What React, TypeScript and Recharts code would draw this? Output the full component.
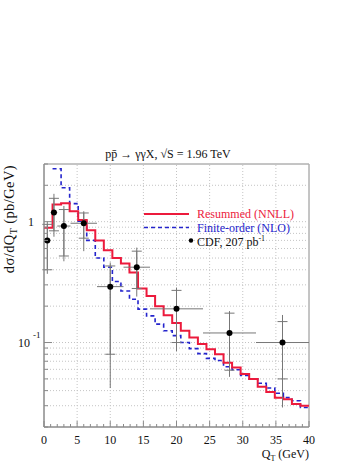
import React from 'react';
import {
  ComposedChart,
  Line,
  Scatter,
  ErrorBar,
  XAxis,
  YAxis,
  ReferenceLine,
  ReferenceArea,
} from 'recharts';

// histogram bin edges (GeV), 31 bins
const binEdges = [
  0, 1.29, 2.58, 3.87, 5.16, 6.45, 7.74, 9.03, 10.32, 11.61, 12.9, 14.19, 15.48, 16.77, 18.06, 19.35,
  20.65, 21.94, 23.23, 24.52, 25.81, 27.1, 28.39, 29.68, 30.97, 32.26, 33.55, 34.84, 36.13, 37.42, 38.71, 40,
];

// Resummed (NNLL), one value per bin
const resummed = [
  0.89, 1.39, 1.42, 1.22, 1.03, 0.85, 0.7, 0.58, 0.5, 0.45, 0.38, 0.28, 0.243, 0.2, 0.168, 0.145,
  0.125, 0.11, 0.097, 0.088, 0.08, 0.068, 0.062, 0.055, 0.05, 0.043, 0.039, 0.035, 0.034, 0.031, 0.03,
];

// Finite-order (NLO), first bin off the plot
const finiteOrder = [
  null, 2.74, 1.91, 1.41, 1.01, 0.7, 0.5, 0.42, 0.32, 0.267, 0.228, 0.189, 0.166, 0.142, 0.125, 0.114,
  0.1, 0.089, 0.081, 0.074, 0.071, 0.063, 0.0595, 0.0535, 0.05, 0.046, 0.042, 0.038, 0.035, 0.033, 0.029,
];

// CDF data
const cdfQt = [0.5, 1.5, 3, 6, 10, 14, 20, 28, 36];
const cdfHalfWidth = [0.5, 0.5, 1, 2, 2, 2, 4, 4, 4];
const cdfValue = [0.7, 1.19, 0.92, 0.97, 0.29, 0.42, 0.19, 0.12, 0.1];
const cdfTotLow = [0.37, 0.75, 0.47, 0.57, 0.042, 0.24, 0.085, 0.052, 0.029];
const cdfTotHigh = [1.0, 1.7, 1.35, 1.22, 0.46, 0.61, 0.285, 0.182, 0.169];
const cdfStatLow = [0.4, 0.84, 0.52, 0.73, 0.08, 0.28, 0.1, 0.059, 0.05];
const cdfStatHigh = [0.95, 1.56, 1.26, 1.18, 0.43, 0.57, 0.27, 0.175, 0.149];

const xTicks = Array.from({ length: 41 }, (_, i) => i);
const xGrid = [5, 10, 15, 20, 25, 30, 35];
const yTicks = [
  0.02, 0.03, 0.04, 0.05, 0.06, 0.07, 0.08, 0.09, 0.1, 0.2, 0.3, 0.4, 0.5, 0.6, 0.7, 0.8, 0.9, 1, 2, 3,
];

const W = 357;
const H = 462;
const PLOT_LEFT = 44;
const PLOT_TOP = 164;
const PLOT_RIGHT = 309;
const PLOT_BOTTOM = 427;

const FONT = '"Liberation Serif", "Times New Roman", serif';
const RED = '#ec1a3c';
const BLUE = '#2424cc';
const AXIS = '#8a8a8a';
const GRID = '#c4c4c4';

const histData = binEdges.map((x, i) => ({
  x,
  red: resummed[Math.min(i, resummed.length - 1)],
  blue: finiteOrder[Math.min(i, finiteOrder.length - 1)],
}));

const cdfData = cdfQt.map((x, i) => ({
  x,
  y: cdfValue[i],
  ex: [cdfHalfWidth[i], cdfHalfWidth[i]],
  eyTot: [cdfValue[i] - cdfTotLow[i], cdfTotHigh[i] - cdfValue[i]],
  eyStat: [cdfValue[i] - cdfStatLow[i], cdfStatHigh[i] - cdfValue[i]],
}));

const XTick = (props: any) => {
  const { x, payload } = props;
  const v = payload.value;
  const major = v % 5 === 0;
  return (
    <g>
      <line x1={x} x2={x} y1={PLOT_BOTTOM} y2={PLOT_BOTTOM - (major ? 6 : 3)} stroke={AXIS} />
      {major && (
        <text x={x} y={PLOT_BOTTOM + 17} textAnchor="middle" fontSize={12} fontFamily={FONT} fill="#111">
          {v}
        </text>
      )}
    </g>
  );
};

const YTick = (props: any) => {
  const { y, payload } = props;
  const v = payload.value;
  const major = v === 1 || v === 0.1;
  return (
    <g>
      <line x1={PLOT_LEFT} x2={PLOT_LEFT + (major ? 8 : 4)} y1={y} y2={y} stroke={AXIS} />
      {v === 1 && (
        <text x={34} y={y + 4} textAnchor="end" fontSize={12} fontFamily={FONT} fill="#111">
          1
        </text>
      )}
      {v === 0.1 && (
        <g fontFamily={FONT} fill="#111">
          <text x={30} y={y + 4} textAnchor="end" fontSize={12}>10</text>
          <text x={33} y={y - 5} fontSize={9}>-1</text>
        </g>
      )}
    </g>
  );
};

const CdfDot = (props: any) => <circle cx={props.cx} cy={props.cy} r={3} fill="#000" />;

const App: React.FC = () => {
  return (
    <div style={{ position: 'absolute', left: 0, top: 0, width: W, height: H, background: '#fff' }}>
      <ComposedChart
        width={W}
        height={H}
        data={histData}
        margin={{ top: PLOT_TOP, right: W - PLOT_RIGHT, bottom: 0, left: 0 }}
      >
        <XAxis
          dataKey="x"
          type="number"
          domain={[0, 40]}
          ticks={xTicks}
          interval={0}
          allowDataOverflow
          height={H - PLOT_BOTTOM}
          tickLine={false}
          axisLine={{ stroke: AXIS }}
          tick={XTick}
        />
        <YAxis
          dataKey="y"
          type="number"
          scale="log"
          domain={[0.02, 3]}
          ticks={yTicks}
          interval={0}
          allowDataOverflow
          width={PLOT_LEFT}
          tickLine={false}
          axisLine={{ stroke: AXIS }}
          tick={YTick}
        />
        {yTicks.map((v) => (
          <ReferenceLine key={`gy-${v}`} y={v} stroke={GRID} strokeDasharray="1 2" />
        ))}
        {xGrid.map((v) => (
          <ReferenceLine key={`gx-${v}`} x={v} stroke={GRID} strokeDasharray="1 2" />
        ))}
        <Line
          dataKey="blue"
          type="stepAfter"
          stroke={BLUE}
          strokeWidth={1.6}
          strokeDasharray="4 3"
          dot={false}
          isAnimationActive={false}
        />
        <Line
          dataKey="red"
          type="stepAfter"
          stroke={RED}
          strokeWidth={2}
          dot={false}
          isAnimationActive={false}
        />
        <Scatter data={cdfData} dataKey="y" shape={CdfDot} isAnimationActive={false}>
          <ErrorBar dataKey="ex" direction="x" width={0} stroke="#777" strokeWidth={1} />
          <ErrorBar dataKey="eyTot" direction="y" width={0} stroke="#777" strokeWidth={1} />
          <ErrorBar dataKey="eyStat" direction="y" width={5} stroke="#777" strokeWidth={1} />
        </Scatter>
        <ReferenceArea x1={0} x2={40} y1={0.02} y2={3} fill="none" stroke={AXIS} strokeWidth={1} />
      </ComposedChart>

      <svg
        width={W}
        height={H}
        style={{ position: 'absolute', left: 0, top: 0, pointerEvents: 'none' }}
      >
        <text x={168} y={158} textAnchor="middle" fontSize={12} fontFamily={FONT} fill="#111">
          {'pp\u0304 → γγX, √S = 1.96 TeV'}
        </text>

        <line x1={144} x2={189} y1={214} y2={214} stroke={RED} strokeWidth={2} />
        <text x={197} y={217.5} fontSize={12} fontFamily={FONT} fill={RED}>
          Resummed (NNLL)
        </text>
        <line x1={144} x2={189} y1={227.5} y2={227.5} stroke={BLUE} strokeWidth={1.6} strokeDasharray="4 3" />
        <text x={197} y={231.5} fontSize={12} fontFamily={FONT} fill={BLUE}>
          Finite-order (NLO)
        </text>
        <circle cx={191} cy={240.5} r={2.2} fill="#000" />
        <text x={197} y={245.5} fontSize={12} fontFamily={FONT} fill="#111">
          CDF, 207 pb
          <tspan dy={-5} fontSize={8}>-1</tspan>
        </text>

        <text
          transform="translate(14, 165) rotate(-90)"
          textAnchor="end"
          fontSize={14.5}
          letterSpacing={0.4}
          fontFamily={FONT}
          fill="#111"
        >
          dσ/dQ
          <tspan dy={3} fontSize={10}>T</tspan>
          <tspan dy={-3}> (pb/GeV)</tspan>
        </text>

        <text x={309} y={458} textAnchor="end" fontSize={12} fontFamily={FONT} fill="#111">
          Q
          <tspan dy={3} fontSize={8}>T</tspan>
          <tspan dy={-3}> (GeV)</tspan>
        </text>
      </svg>
    </div>
  );
};

export default App;
